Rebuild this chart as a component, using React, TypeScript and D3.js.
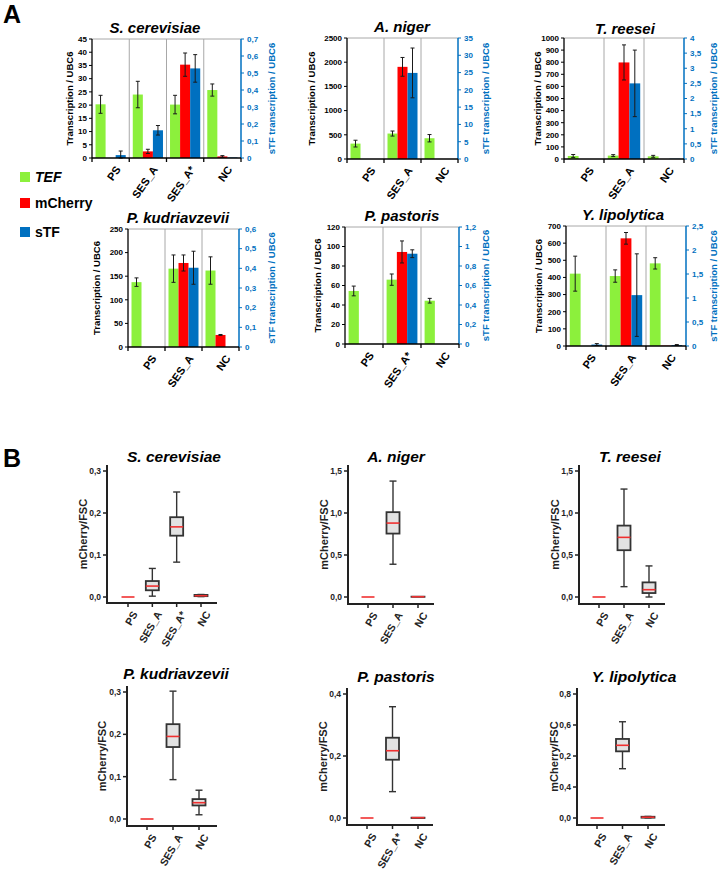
import React from "react";
import * as d3 from "d3";

const FONT = "'Liberation Sans', Arial, sans-serif";
const GREEN = "#8cf03c";
const RED = "#ff0000";
const BLUE = "#0070c0";

const loc = d3.formatLocale({ decimal: ",", thousands: ".", grouping: [3], currency: ["", ""] });
const fmtA = loc.format("~f");
const fmtB = loc.format(".1f");

// ---------- Panel A data ----------
const seriesKeys = ["TEF", "mCherry", "sTF"];

const scerCats = ["PS", "SES_A", "SES_A*", "NC"];
const scerTEF = [20.3, 24.0, 20.2, 25.7];
const scerTEFErr = [3.4, 5.0, 3.5, 2.3];
const scerMCh = [0, 2.5, 35.3, 0.6];
const scerMChErr = [0, 0.8, 4.4, 0.3];
const scerSTF = [0.017, 0.163, 0.527, 0.003];
const scerSTFErr = [0.024, 0.028, 0.081, 0];
const scerLeftTicks = [0, 5, 10, 15, 20, 25, 30, 35, 40, 45];
const scerRightTicks = [0, 0.1, 0.2, 0.3, 0.4, 0.5, 0.6, 0.7];

const anigCats = ["PS", "SES_A", "NC"];
const anigTEF = [318, 526, 429];
const anigTEFErr = [70, 52, 76];
const anigMCh = [0, 1904, 0];
const anigMChErr = [0, 194, 0];
const anigSTF = [0, 24.9, 0];
const anigSTFErr = [0, 7.2, 0];
const anigLeftTicks = [0, 500, 1000, 1500, 2000, 2500];
const anigRightTicks = [0, 5, 10, 15, 20, 25, 30, 35];

const treeCats = ["PS", "SES_A", "NC"];
const treeTEF = [25, 28, 22];
const treeTEFErr = [12, 8, 8];
const treeMCh = [0, 798, 0];
const treeMChErr = [0, 145, 0];
const treeSTF = [0, 2.5, 0.01];
const treeSTFErr = [0, 1.1, 0];
const treeLeftTicks = [0, 100, 200, 300, 400, 500, 600, 700, 800, 900, 1000];
const treeRightTicks = [0, 0.5, 1, 1.5, 2, 2.5, 3, 3.5, 4];

const pkudCats = ["PS", "SES_A", "NC"];
const pkudTEF = [137.4, 166, 162];
const pkudTEFErr = [9, 29, 29];
const pkudMCh = [0, 178, 25.5];
const pkudMChErr = [0, 17, 1];
const pkudSTF = [0, 0.403, 0];
const pkudSTFErr = [0, 0.084, 0];
const pkudLeftTicks = [0, 50, 100, 150, 200, 250];
const pkudRightTicks = [0, 0.1, 0.2, 0.3, 0.4, 0.5, 0.6];

const ppasCats = ["PS", "SES_A*", "NC"];
const ppasTEF = [54.4, 66, 44.4];
const ppasTEFErr = [5, 5.8, 2.4];
const ppasMCh = [0, 94.4, 0];
const ppasMChErr = [0, 11.3, 0];
const ppasSTF = [0, 0.926, 0];
const ppasSTFErr = [0, 0.04, 0];
const ppasLeftTicks = [0, 20, 40, 60, 80, 100, 120];
const ppasRightTicks = [0, 0.2, 0.4, 0.6, 0.8, 1, 1.2];

const ylipCats = ["PS", "SES_A", "NC"];
const ylipTEF = [422, 408, 482];
const ylipTEFErr = [102, 36, 33];
const ylipMCh = [0, 628, 2];
const ylipMChErr = [0, 34, 0];
const ylipSTF = [0.03, 1.06, 0.02];
const ylipSTFErr = [0.02, 0.86, 0.01];
const ylipLeftTicks = [0, 100, 200, 300, 400, 500, 600, 700];
const ylipRightTicks = [0, 0.5, 1, 1.5, 2, 2.5];

const legendItems = ["TEF", "mCherry", "sTF"];

// ---------- Panel B data: [min, q1, median, q3, max] ----------
const scerBoxCats = ["PS", "SES_A", "SES_A*", "NC"];
const scerBoxStats = [
  [0, 0, 0, 0, 0],
  [0.002, 0.016, 0.026, 0.038, 0.068],
  [0.083, 0.146, 0.167, 0.19, 0.25],
  [0.001, 0.002, 0.003, 0.005, 0.006],
];
const scerBoxTicks = [0, 0.1, 0.2, 0.3];

const anigBoxCats = ["PS", "SES_A", "NC"];
const anigBoxStats = [
  [0, 0, 0, 0, 0],
  [0.39, 0.755, 0.88, 1.01, 1.38],
  [0.002, 0.002, 0.003, 0.004, 0.004],
];
const anigBoxTicks = [0, 0.5, 1.0, 1.5];

const treeBoxCats = ["PS", "SES_A", "NC"];
const treeBoxStats = [
  [0, 0, 0, 0, 0],
  [0.123, 0.557, 0.71, 0.85, 1.285],
  [0.0, 0.047, 0.087, 0.174, 0.37],
];
const treeBoxTicks = [0, 0.5, 1.0, 1.5];

const pkudBoxCats = ["PS", "SES_A", "NC"];
const pkudBoxStats = [
  [0, 0, 0, 0, 0],
  [0.093, 0.17, 0.195, 0.224, 0.302],
  [0.01, 0.032, 0.0385, 0.047, 0.068],
];
const pkudBoxTicks = [0, 0.1, 0.2, 0.3];

const ppasBoxCats = ["PS", "SES_A*", "NC"];
const ppasBoxStats = [
  [0, 0, 0, 0, 0],
  [0.085, 0.188, 0.217, 0.259, 0.359],
  [0, 0, 0.001, 0.001, 0.001],
];
const ppasBoxTicks = [0, 0.2, 0.4];

const ylipBoxCats = ["PS", "SES_A", "NC"];
const ylipBoxStats = [
  [0, 0, 0, 0, 0],
  [0.318, 0.43, 0.469, 0.51, 0.621],
  [0.001, 0.002, 0.005, 0.008, 0.01],
];
const ylipBoxTicks = [0, 0.2, 0.4, 0.6, 0.8];
const ylipBoxTickLabels = ["0,0", "0,4", "0,2", "0,6", "0,8"];

// ---------- layouts ----------
type BarLayout = { xL: number; xR: number; yT: number; yB: number; titleX: number; titleY: number; lTitleX: number; rTitleX: number };

function BarPanel(props: any) {
  const { title, cats, vals, errs, leftTicks, rightTicks, L } = props as any;
  const Lo: BarLayout = L;
  const yL = d3.scaleLinear().domain([0, leftTicks[leftTicks.length - 1]]).range([Lo.yB, Lo.yT]);
  const yR = d3.scaleLinear().domain([0, rightTicks[rightTicks.length - 1]]).range([Lo.yB, Lo.yT]);
  const x0 = d3.scaleBand().domain(cats).range([Lo.xL, Lo.xR]);
  const x1 = d3.scaleBand().domain(seriesKeys).range([0, x0.bandwidth()]).paddingInner(0).paddingOuter(0.35);
  const colors = [GREEN, RED, BLUE];
  const scales = [yL, yL, yR];
  const midY = (Lo.yT + Lo.yB) / 2;
  return (
    <g>
      <text x={Lo.titleX} y={Lo.titleY} textAnchor="middle" fontFamily={FONT} fontWeight="bold" fontStyle="italic" fontSize={15}>{title}</text>
      {cats.map((c: string, i: number) => i > 0 ? (
        <line key={"s" + c} x1={x0(c)} x2={x0(c)} y1={Lo.yT} y2={Lo.yB} stroke="#a8a8a8" strokeWidth={1} />
      ) : null)}
      <line x1={Lo.xL} x2={Lo.xR} y1={Lo.yT} y2={Lo.yT} stroke="#a8a8a8" strokeWidth={1} />
      {seriesKeys.map((k, si) => cats.map((c: string, ci: number) => {
        const v = vals[si][ci];
        if (!(v > 0)) return null;
        const sc = scales[si];
        const y = sc(v);
        return <rect key={k + c} x={(x0(c) as number) + (x1(k) as number)} y={y} width={x1.bandwidth()} height={sc(0) - y} fill={colors[si]} />;
      }))}
      {seriesKeys.map((k, si) => cats.map((c: string, ci: number) => {
        const v = vals[si][ci];
        const e = errs[si][ci];
        if (!(v > 0) || !(e > 0)) return null;
        const sc = scales[si];
        const cx = (x0(c) as number) + (x1(k) as number) + x1.bandwidth() / 2;
        const lo = sc(Math.max(0, v - e));
        const hi = sc(v + e);
        return (
          <g key={"e" + k + c} stroke="#1a1a1a" strokeWidth={1}>
            <line x1={cx} x2={cx} y1={lo} y2={hi} />
            <line x1={cx - 2} x2={cx + 2} y1={hi} y2={hi} />
            <line x1={cx - 2} x2={cx + 2} y1={lo} y2={lo} />
          </g>
        );
      }))}
      <line x1={Lo.xL} x2={Lo.xL} y1={Lo.yT} y2={Lo.yB} stroke="#000" strokeWidth={1.3} />
      {leftTicks.map((t: number) => (
        <g key={"l" + t}>
          <line x1={Lo.xL - 3} x2={Lo.xL} y1={yL(t)} y2={yL(t)} stroke="#000" strokeWidth={1} />
          <text x={Lo.xL - 5} y={yL(t)} dy="0.35em" textAnchor="end" fontFamily={FONT} fontWeight="bold" fontSize={8}>{fmtA(t)}</text>
        </g>
      ))}
      <line x1={Lo.xR} x2={Lo.xR} y1={Lo.yT} y2={Lo.yB} stroke={BLUE} strokeWidth={1.5} />
      {rightTicks.map((t: number) => (
        <g key={"r" + t}>
          <line x1={Lo.xR} x2={Lo.xR + 3} y1={yR(t)} y2={yR(t)} stroke={BLUE} strokeWidth={1} />
          <text x={Lo.xR + 6} y={yR(t)} dy="0.35em" textAnchor="start" fontFamily={FONT} fontWeight="bold" fontSize={8} fill={BLUE}>{fmtA(t)}</text>
        </g>
      ))}
      <line x1={Lo.xL} x2={Lo.xR} y1={Lo.yB} y2={Lo.yB} stroke="#000" strokeWidth={1.5} />
      {[...cats.map((c: string) => x0(c) as number), Lo.xR].map((x: number, i: number) => (
        <line key={"bt" + i} x1={x} x2={x} y1={Lo.yB} y2={Lo.yB + 4} stroke="#000" strokeWidth={1.3} />
      ))}
      {cats.map((c: string) => {
        const cx = (x0(c) as number) + x0.bandwidth() / 2 + 4;
        const cy = Lo.yB + 7;
        return (
          <text key={"xl" + c} x={cx} y={cy} textAnchor="end" dominantBaseline="hanging" transform={`rotate(-55 ${cx} ${cy})`} fontFamily={FONT} fontWeight="bold" fontSize={11}>{c}</text>
        );
      })}
      <text x={Lo.lTitleX} y={midY} dy="0.35em" textAnchor="middle" transform={`rotate(-90 ${Lo.lTitleX} ${midY})`} fontFamily={FONT} fontWeight="bold" fontSize={9.5}>Transcription / UBC6</text>
      <text x={Lo.rTitleX} y={midY} dy="0.35em" textAnchor="middle" transform={`rotate(-90 ${Lo.rTitleX} ${midY})`} fontFamily={FONT} fontWeight="bold" fontSize={9.5} fill={BLUE}>sTF transcription / UBC6</text>
    </g>
  );
}

type BoxLayout = { xAx: number; y0: number; yTop: number; axisTop: number; axisY: number; xEnd: number; c0: number; c1: number; titleX: number; titleY: number; yTitleX: number };

function BoxPanel(props: any) {
  const { title, cats, stats, ticks, tickLabels, L } = props as any;
  const Lo: BoxLayout = L;
  const y = d3.scaleLinear().domain([0, ticks[ticks.length - 1]]).range([Lo.y0, Lo.yTop]);
  const x = d3.scalePoint().domain(cats).range([Lo.c0, Lo.c1]);
  const bw = 13;
  const cap = 7;
  const midY = (Lo.axisTop + Lo.axisY) / 2;
  return (
    <g>
      <text x={Lo.titleX} y={Lo.titleY} textAnchor="middle" fontFamily={FONT} fontWeight="bold" fontStyle="italic" fontSize={15.5}>{title}</text>
      {cats.map((c: string, i: number) => {
        const [mn, q1, md, q3, mx] = stats[i];
        const cx = x(c) as number;
        return (
          <g key={"b" + c}>
            {mx > q3 && <line x1={cx} x2={cx} y1={y(q3)} y2={y(mx)} stroke="#333" strokeWidth={1.4} />}
            {q1 > mn && <line x1={cx} x2={cx} y1={y(mn)} y2={y(q1)} stroke="#333" strokeWidth={1.4} />}
            {mx > q3 && <line x1={cx - cap / 2} x2={cx + cap / 2} y1={y(mx)} y2={y(mx)} stroke="#333" strokeWidth={1.4} />}
            {q1 > mn && <line x1={cx - cap / 2} x2={cx + cap / 2} y1={y(mn)} y2={y(mn)} stroke="#333" strokeWidth={1.4} />}
            {q3 > q1 && <rect x={cx - bw / 2} y={y(q3)} width={bw} height={y(q1) - y(q3)} fill="#e2e2e2" stroke="#333" strokeWidth={1.8} />}
            <line x1={cx - bw / 2} x2={cx + bw / 2} y1={y(md)} y2={y(md)} stroke="#f03030" strokeWidth={1.6} />
          </g>
        );
      })}
      <line x1={Lo.xAx} x2={Lo.xAx} y1={Lo.axisTop} y2={Lo.axisY} stroke="#222" strokeWidth={2} />
      {ticks.map((t: number, i: number) => (
        <g key={"t" + i}>
          <line x1={Lo.xAx - 4} x2={Lo.xAx} y1={y(t)} y2={y(t)} stroke="#222" strokeWidth={1.5} />
          <text x={Lo.xAx - 6} y={y(t)} dy="0.35em" textAnchor="end" fontFamily={FONT} fontWeight="bold" fontSize={8.5} fill="#222">{tickLabels ? tickLabels[i] : fmtB(t)}</text>
        </g>
      ))}
      <line x1={Lo.xAx - 1} x2={Lo.xEnd} y1={Lo.axisY} y2={Lo.axisY} stroke="#222" strokeWidth={2} />
      {cats.map((c: string) => {
        const cx = x(c) as number;
        const lx = cx + 3;
        const ly = Lo.axisY + 7;
        return (
          <g key={"x" + c}>
            <line x1={cx} x2={cx} y1={Lo.axisY} y2={Lo.axisY + 4} stroke="#222" strokeWidth={1.5} />
            <text x={lx} y={ly} textAnchor="end" dominantBaseline="hanging" transform={`rotate(-60 ${lx} ${ly})`} fontFamily={FONT} fontWeight="bold" fontSize={10.5} fill="#222">{c}</text>
          </g>
        );
      })}
      <text x={Lo.yTitleX} y={midY} dy="0.35em" textAnchor="middle" transform={`rotate(-90 ${Lo.yTitleX} ${midY})`} fontFamily={FONT} fontWeight="bold" fontSize={11} fill="#222">mCherry/FSC</text>
    </g>
  );
}

const barPanels = [
  { title: "S. cerevisiae", cats: scerCats, vals: [scerTEF, scerMCh, scerSTF], errs: [scerTEFErr, scerMChErr, scerSTFErr], leftTicks: scerLeftTicks, rightTicks: scerRightTicks,
    L: { xL: 92, xR: 241, yT: 39, yB: 158, titleX: 155, titleY: 33, lTitleX: 70, rTitleX: 272 } },
  { title: "A. niger", cats: anigCats, vals: [anigTEF, anigMCh, anigSTF], errs: [anigTEFErr, anigMChErr, anigSTFErr], leftTicks: anigLeftTicks, rightTicks: anigRightTicks,
    L: { xL: 347, xR: 458, yT: 38, yB: 159, titleX: 402, titleY: 32, lTitleX: 312, rTitleX: 486 } },
  { title: "T. reesei", cats: treeCats, vals: [treeTEF, treeMCh, treeSTF], errs: [treeTEFErr, treeMChErr, treeSTFErr], leftTicks: treeLeftTicks, rightTicks: treeRightTicks,
    L: { xL: 564, xR: 684, yT: 38, yB: 159, titleX: 625, titleY: 34, lTitleX: 538, rTitleX: 714 } },
  { title: "P. kudriavzevii", cats: pkudCats, vals: [pkudTEF, pkudMCh, pkudSTF], errs: [pkudTEFErr, pkudMChErr, pkudSTFErr], leftTicks: pkudLeftTicks, rightTicks: pkudRightTicks,
    L: { xL: 128, xR: 239, yT: 229, yB: 347, titleX: 178, titleY: 223, lTitleX: 97, rTitleX: 272 } },
  { title: "P. pastoris", cats: ppasCats, vals: [ppasTEF, ppasMCh, ppasSTF], errs: [ppasTEFErr, ppasMChErr, ppasSTFErr], leftTicks: ppasLeftTicks, rightTicks: ppasRightTicks,
    L: { xL: 345, xR: 459, yT: 227, yB: 344, titleX: 402, titleY: 221, lTitleX: 318, rTitleX: 486 } },
  { title: "Y. lipolytica", cats: ylipCats, vals: [ylipTEF, ylipMCh, ylipSTF], errs: [ylipTEFErr, ylipMChErr, ylipSTFErr], leftTicks: ylipLeftTicks, rightTicks: ylipRightTicks,
    L: { xL: 566, xR: 686, yT: 226, yB: 346, titleX: 623, titleY: 220, lTitleX: 539, rTitleX: 714 } },
];

const boxPanels = [
  { title: "S. cerevisiae", cats: scerBoxCats, stats: scerBoxStats, ticks: scerBoxTicks,
    L: { xAx: 107, y0: 597, yTop: 471, axisTop: 465, axisY: 603, xEnd: 217, c0: 128, c1: 201, titleX: 174, titleY: 462, yTitleX: 83 } },
  { title: "A. niger", cats: anigBoxCats, stats: anigBoxStats, ticks: anigBoxTicks,
    L: { xAx: 348, y0: 597, yTop: 471, axisTop: 465, axisY: 604, xEnd: 434, c0: 368, c1: 418, titleX: 396, titleY: 462, yTitleX: 324 } },
  { title: "T. reesei", cats: treeBoxCats, stats: treeBoxStats, ticks: treeBoxTicks,
    L: { xAx: 579, y0: 597, yTop: 471, axisTop: 465, axisY: 604, xEnd: 665, c0: 599, c1: 649, titleX: 630, titleY: 462, yTitleX: 555 } },
  { title: "P. kudriavzevii", cats: pkudBoxCats, stats: pkudBoxStats, ticks: pkudBoxTicks,
    L: { xAx: 127, y0: 819, yTop: 692, axisTop: 686, axisY: 826, xEnd: 217, c0: 147, c1: 199, titleX: 176, titleY: 679, yTitleX: 102 } },
  { title: "P. pastoris", cats: ppasBoxCats, stats: ppasBoxStats, ticks: ppasBoxTicks,
    L: { xAx: 347, y0: 818, yTop: 694, axisTop: 688, axisY: 825, xEnd: 433, c0: 367, c1: 418, titleX: 396, titleY: 682, yTitleX: 323 } },
  { title: "Y. lipolytica", cats: ylipBoxCats, stats: ylipBoxStats, ticks: ylipBoxTicks, tickLabels: ylipBoxTickLabels,
    L: { xAx: 577, y0: 818, yTop: 694, axisTop: 688, axisY: 825, xEnd: 665, c0: 597, c1: 648, titleX: 634, titleY: 682, yTitleX: 554 } },
];

const legendLayout = { x: 20, ys: [172, 198, 227], size: 10, textX: 35 };

export default function App() {
  const legendColors = [GREEN, RED, BLUE];
  return (
    <svg width={720} height={872} style={{ position: "absolute", left: 0, top: 0, background: "#fff" }}>
      <rect width={720} height={872} fill="#fff" />
      <text x={3} y={23} fontFamily={FONT} fontWeight="bold" fontSize={25}>A</text>
      <text x={3} y={467} fontFamily={FONT} fontWeight="bold" fontSize={25}>B</text>
      {barPanels.map((p) => <BarPanel key={p.title + "A"} {...p} />)}
      {legendItems.map((k, i) => (
        <g key={"lg" + k}>
          <rect x={legendLayout.x} y={legendLayout.ys[i]} width={legendLayout.size} height={legendLayout.size} fill={legendColors[i]} />
          <text x={legendLayout.textX} y={legendLayout.ys[i] + legendLayout.size / 2} dy="0.38em" fontFamily={FONT} fontWeight="bold" fontStyle={k === "TEF" ? "italic" : "normal"} fontSize={14}>{k}</text>
        </g>
      ))}
      {boxPanels.map((p) => <BoxPanel key={p.title + "B"} {...p} />)}
    </svg>
  );
}
